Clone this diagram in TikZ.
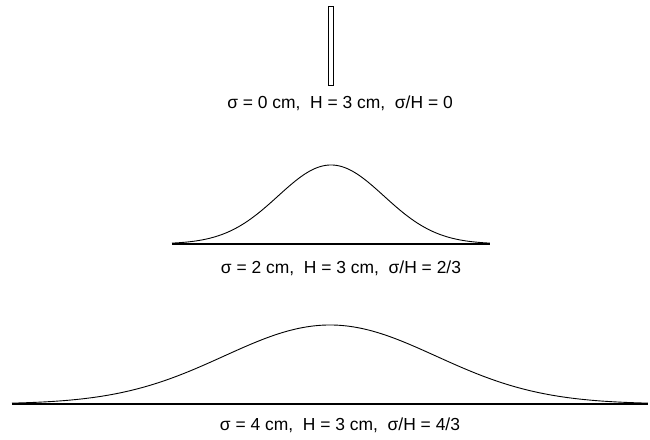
\documentclass[tikz,border=0pt]{standalone}
\usepackage{fontspec}
\setmainfont{Liberation Sans}
\begin{document}
\begin{tikzpicture}[x=1bp,y=-1bp,
  curve/.style={line width=0.9bp,black},
  base/.style={line width=1.5bp,black},
  lbl/.style={font=\fontsize{17.5}{20}\selectfont,inner sep=0pt,anchor=center}]
\useasboundingbox (0,0) rectangle (650,440);
% top: thin rectangle
\draw[line width=1bp] (328.3,6.5) rectangle (333.3,85.5);
\node[lbl] (t1) at (340,103) {σ = 0 cm,\ \ H = 3 cm,\ \ σ/H = 0};
% middle gaussian
\draw[curve] plot[domain=-3:3,samples=161,smooth] ({331+53*\x},{244-79*exp(-\x*\x/2)});
\draw[base] (172,244) -- (490,244);
\node[lbl] (t2) at (341,268) {σ = 2 cm,\ \ H = 3 cm,\ \ σ/H = 2/3};
% bottom gaussian
\draw[curve] plot[domain=-3:3,samples=161,smooth] ({330+106*\x},{404-79*exp(-\x*\x/2)});
\draw[base] (12,404) -- (648,404);
\node[lbl] (t3) at (340,425) {σ = 4 cm,\ \ H = 3 cm,\ \ σ/H = 4/3};
\end{tikzpicture}
\end{document}
